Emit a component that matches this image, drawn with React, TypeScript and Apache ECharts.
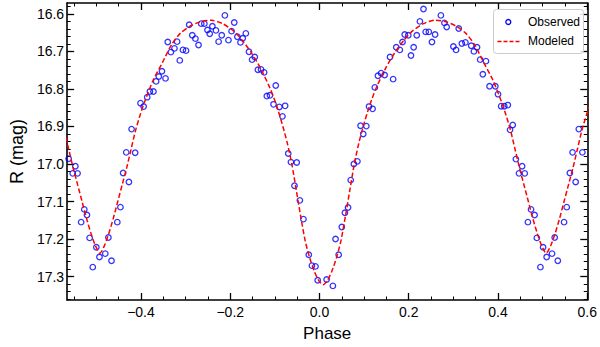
import React, { useEffect, useRef } from "react";
import * as echarts from "echarts";

// ---- Observed light-curve points (phase, R magnitude) ----
const obsPhase = [
  -0.567, -0.562, -0.553, -0.547, -0.542, -0.534, -0.527, -0.521, -0.515, -0.508,
  -0.500, -0.493, -0.480, -0.473, -0.466, -0.453, -0.446, -0.440, -0.433, -0.427,
  -0.421, -0.413, -0.401, -0.394, -0.386, -0.380, -0.372, -0.366, -0.360, -0.353,
  -0.345, -0.340, -0.333, -0.325, -0.319, -0.313, -0.306, -0.299, -0.292, -0.285,
  -0.278, -0.271, -0.265, -0.258, -0.251, -0.246, -0.240, -0.232, -0.226, -0.219,
  -0.212, -0.204, -0.197, -0.191, -0.184, -0.177, -0.172, -0.165, -0.158, -0.151,
  -0.145, -0.138, -0.131, -0.124, -0.118, -0.111, -0.103, -0.098, -0.090, -0.083,
  -0.077, -0.070, -0.064, -0.056, -0.051, -0.044, -0.036, -0.024, -0.017, -0.009,
  -0.004, 0.016, 0.030, 0.036, 0.043, 0.050, 0.057, 0.064, 0.070, 0.077,
  0.085, 0.092, 0.098, 0.105, 0.111, 0.119, 0.124, 0.131, 0.138, 0.146,
  0.158, 0.165, 0.172, 0.180, 0.186, 0.191, 0.199, 0.205, 0.211, 0.218,
  0.225, 0.233, 0.238, 0.245, 0.252, 0.259, 0.272, 0.280, 0.285, 0.300,
  0.306, 0.312, 0.319, 0.327, 0.340, 0.346, 0.353, 0.360, 0.366, 0.373,
  0.381, 0.394, 0.400, 0.407, 0.414, 0.422, 0.427, 0.433, 0.440, 0.447,
  0.454, 0.460, 0.467, 0.474, 0.482, 0.487, 0.495, 0.501, 0.509, 0.521,
  0.527, 0.534, 0.548, 0.554, 0.561, 0.567, 0.574, 0.581, 0.589,
];
const obsMag = [
  16.896, 16.986, 17.025, 17.006, 17.025, 17.155, 17.121, 17.136, 17.197, 17.275,
  17.222, 17.248, 17.239, 17.196, 17.258, 17.155, 17.115, 17.024, 16.969, 17.048,
  16.907, 16.970, 16.838, 16.847, 16.822, 16.807, 16.807, 16.780, 16.767, 16.753,
  16.772, 16.675, 16.702, 16.692, 16.674, 16.724, 16.696, 16.698, 16.629, 16.657,
  16.666, 16.683, 16.626, 16.626, 16.643, 16.653, 16.633, 16.644, 16.674, 16.657,
  16.604, 16.670, 16.646, 16.623, 16.661, 16.676, 16.665, 16.652, 16.701, 16.722,
  16.715, 16.749, 16.748, 16.756, 16.819, 16.817, 16.841, 16.791, 16.848, 16.873,
  16.845, 16.972, 16.995, 17.058, 16.996, 17.097, 17.147, 17.242, 17.271, 17.273,
  17.310, 17.308, 17.325, 17.200, 17.242, 17.168, 17.130, 17.116, 17.043, 17.000,
  16.993, 16.898, 16.920, 16.899, 16.847, 16.853, 16.796, 16.765, 16.758, 16.763,
  16.715, 16.774, 16.689, 16.696, 16.675, 16.655, 16.657, 16.711, 16.689, 16.657,
  16.620, 16.587, 16.648, 16.648, 16.675, 16.655, 16.604, 16.624, 16.635, 16.687,
  16.696, 16.639, 16.679, 16.676, 16.685, 16.700, 16.689, 16.722, 16.761, 16.726,
  16.793, 16.793, 16.814, 16.846, 16.846, 16.843, 16.909, 16.896, 16.987, 17.025,
  17.006, 17.025, 17.155, 17.121, 17.136, 17.197, 17.275, 17.222, 17.248, 17.239,
  17.196, 17.258, 17.155, 17.115, 17.024, 16.969, 17.048, 16.907, 16.969,
];

// ---- Model light curve (phase, R magnitude) ----
const modelPhase = [
  -0.572, -0.562, -0.552, -0.542, -0.532, -0.522, -0.512, -0.502, -0.492, -0.482,
  -0.472, -0.462, -0.452, -0.442, -0.432, -0.422, -0.412, -0.402, -0.392, -0.372,
  -0.352, -0.332, -0.312, -0.292, -0.267, -0.242, -0.217, -0.192, -0.172, -0.152,
  -0.132, -0.112, -0.102, -0.092, -0.082, -0.072, -0.062, -0.052, -0.042, -0.032,
  -0.022, -0.012, -0.002, 0.008, 0.018, 0.028, 0.038, 0.048, 0.058, 0.068,
  0.078, 0.088, 0.098, 0.108, 0.118, 0.128, 0.148, 0.168, 0.188, 0.208,
  0.233, 0.258, 0.283, 0.308, 0.328, 0.348, 0.368, 0.388, 0.408, 0.418,
  0.428, 0.438, 0.448, 0.458, 0.468, 0.478, 0.488, 0.498, 0.508, 0.518,
  0.528, 0.538, 0.548, 0.558, 0.568, 0.578, 0.588, 0.598, 0.608,
];
const modelMag = [
  16.910, 16.960, 17.010, 17.055, 17.100, 17.145, 17.185, 17.218, 17.238, 17.218,
  17.185, 17.145, 17.100, 17.055, 17.010, 16.960, 16.910, 16.870, 16.835, 16.775,
  16.730, 16.683, 16.652, 16.634, 16.621, 16.617, 16.626, 16.646, 16.672, 16.705,
  16.745, 16.795, 16.825, 16.860, 16.900, 16.945, 17.000, 17.070, 17.140, 17.205,
  17.250, 17.285, 17.310, 17.322, 17.310, 17.285, 17.250, 17.205, 17.140, 17.070,
  17.000, 16.945, 16.900, 16.860, 16.825, 16.795, 16.745, 16.705, 16.672, 16.646,
  16.626, 16.617, 16.621, 16.634, 16.652, 16.683, 16.730, 16.775, 16.835, 16.870,
  16.910, 16.960, 17.010, 17.055, 17.100, 17.145, 17.185, 17.218, 17.238, 17.218,
  17.185, 17.145, 17.100, 17.055, 17.010, 16.960, 16.910, 16.870, 16.835,
];

// ---- Axes ----
const xMajorTicks = [-0.4, -0.2, 0.0, 0.2, 0.4, 0.6];
const xMinorTicks = [-0.55, -0.5, -0.45, -0.35, -0.3, -0.25, -0.15, -0.1, -0.05, 0.05, 0.1, 0.15, 0.25, 0.3, 0.35, 0.45, 0.5, 0.55];
const yMajorTicks = [16.6, 16.7, 16.8, 16.9, 17.0, 17.1, 17.2, 17.3];
const yMinorTicks = [
  16.58, 16.62, 16.64, 16.66, 16.68, 16.72, 16.74, 16.76, 16.78, 16.82, 16.84, 16.86, 16.88,
  16.92, 16.94, 16.96, 16.98, 17.02, 17.04, 17.06, 17.08, 17.12, 17.14, 17.16, 17.18,
  17.22, 17.24, 17.26, 17.28, 17.32, 17.34, 17.36,
];

const X_MIN = -0.5654;
const X_MAX = 0.6;
const Y_MIN = 16.571;
const Y_MAX = 17.3625;

const FONT = "'Liberation Sans', Arial, sans-serif";

export default function App() {
  const ref = useRef<HTMLDivElement>(null);

  useEffect(() => {
    if (!ref.current) return;
    const chart = echarts.init(ref.current, undefined, { renderer: "svg" });

    const lineStyle = { color: "#000", width: 1.6 };
    const majorTick = (vals: number[]) => ({
      show: true,
      inside: true,
      length: 7,
      customValues: vals,
      lineStyle: { color: "#000", width: 1.3 },
    });
    const minorTick = (vals: number[]) => ({
      show: true,
      inside: true,
      length: 3.5,
      customValues: vals,
      lineStyle: { color: "#000", width: 1 },
    });

    const xBase = (position: "bottom" | "top") => ({
      type: "value" as const,
      position,
      min: X_MIN,
      max: X_MAX,
      splitLine: { show: false },
      axisLabel: { show: false },
      axisLine: { show: false, onZero: false },
    });
    const yBase = (position: "left" | "right") => ({
      type: "value" as const,
      position,
      min: Y_MIN,
      max: Y_MAX,
      inverse: true,
      splitLine: { show: false },
      axisLabel: { show: false },
      axisLine: { show: false, onZero: false },
    });

    chart.setOption({
      animation: false,
      backgroundColor: "#ffffff",
      grid: { left: 50, right: 11.7, top: 3, bottom: 40.3, show: false },
      xAxis: [
        {
          ...xBase("bottom"),
          axisLine: { show: true, onZero: false, lineStyle },
          axisTick: majorTick(xMajorTicks),
          axisLabel: {
            show: true,
            customValues: xMajorTicks,
            margin: 5,
            color: "#000",
            fontSize: 14,
            fontFamily: FONT,
            formatter: (v: number) => v.toFixed(1).replace("-", "\u2212"),
          },
          name: "Phase",
          nameLocation: "middle",
          nameGap: 25,
          nameTextStyle: { color: "#000", fontSize: 17, fontFamily: FONT },
        },
        { ...xBase("bottom"), axisTick: minorTick(xMinorTicks) },
        {
          ...xBase("top"),
          axisLine: { show: true, onZero: false, lineStyle },
          axisTick: majorTick(xMajorTicks),
        },
        { ...xBase("top"), axisTick: minorTick(xMinorTicks) },
      ],
      yAxis: [
        {
          ...yBase("left"),
          axisLine: { show: true, onZero: false, lineStyle },
          axisTick: majorTick(yMajorTicks),
          axisLabel: {
            show: true,
            customValues: yMajorTicks,
            margin: 3,
            color: "#000",
            fontSize: 14,
            fontFamily: FONT,
            formatter: (v: number) => v.toFixed(1),
          },
          name: "R (mag)",
          nameLocation: "middle",
          nameRotate: 90,
          nameGap: 33,
          nameTextStyle: { color: "#000", fontSize: 18, fontFamily: FONT },
        },
        { ...yBase("left"), axisTick: minorTick(yMinorTicks) },
        {
          ...yBase("right"),
          axisLine: { show: true, onZero: false, lineStyle },
          axisTick: majorTick(yMajorTicks),
        },
        { ...yBase("right"), axisTick: minorTick(yMinorTicks) },
      ],
      series: [
        {
          name: "Observed",
          type: "scatter",
          xAxisIndex: 0,
          yAxisIndex: 0,
          data: obsPhase.map((p, i) => [p, obsMag[i]]),
          symbol: "circle",
          symbolSize: 5.5,
          itemStyle: { color: "rgba(0,0,0,0)", borderColor: "#0000ff", borderWidth: 1.3 },
          z: 2,
        },
        {
          name: "Modeled",
          type: "line",
          xAxisIndex: 0,
          yAxisIndex: 0,
          data: modelPhase.map((p, i) => [p, modelMag[i]]),
          showSymbol: false,
          symbol: "none",
          smooth: 0.25,
          lineStyle: { color: "#ff0000", width: 1.5, type: [5, 2.5] },
          z: 3,
        },
      ],
      graphic: [
        {
          type: "rect",
          z: 100,
          shape: { x: 493.5, y: 9.5, width: 90, height: 44, r: 3 },
          style: { fill: "rgba(255,255,255,0.85)", stroke: "#cccccc", lineWidth: 1 },
        },
        {
          type: "circle",
          z: 101,
          shape: { cx: 508.3, cy: 22, r: 2.5 },
          style: { fill: "none", stroke: "#0000ff", lineWidth: 1.3 },
        },
        {
          type: "line",
          z: 101,
          shape: { x1: 497.5, y1: 41.5, x2: 519.5, y2: 41.5 },
          style: { stroke: "#ff0000", lineWidth: 1.5, lineDash: [4, 2] },
        },
        {
          type: "text",
          z: 101,
          x: 528,
          y: 22,
          style: { text: "Observed", fill: "#000", font: `12px ${FONT}`, textVerticalAlign: "middle", verticalAlign: "middle" },
        },
        {
          type: "text",
          z: 101,
          x: 528,
          y: 41,
          style: { text: "Modeled", fill: "#000", font: `12px ${FONT}`, textVerticalAlign: "middle", verticalAlign: "middle" },
        },
      ],
    });

    return () => chart.dispose();
  }, []);

  return <div ref={ref} style={{ position: "fixed", left: 0, top: 0, width: 600, height: 347 }} />;
}
